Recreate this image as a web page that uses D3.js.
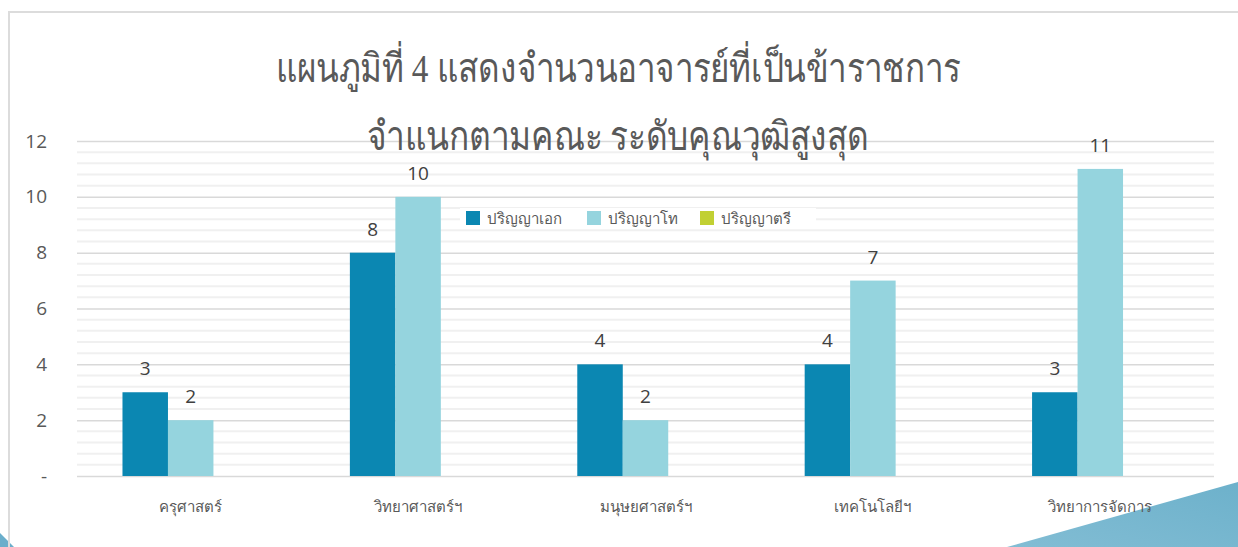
<!DOCTYPE html>
<html>
<head>
<meta charset="utf-8">
<script src="https://cdn.jsdelivr.net/npm/d3@7"></script>
<style>
  html, body { margin: 0; padding: 0; background: #fff; }
  svg { display: block; }
</style>
</head>
<body>
<svg id="chart" width="1238" height="547"></svg>
<script>
const categories = ["ครุศาสตร์", "วิทยาศาสตร์ฯ", "มนุษยศาสตร์ฯ", "เทคโนโลยีฯ", "วิทยาการจัดการ"];
const seriesNames = ["ปริญญาเอก", "ปริญญาโท", "ปริญญาตรี"];
const doctorValues = [3, 8, 4, 4, 3];
const masterValues = [2, 10, 2, 7, 11];
const bachelorValues = [null, null, null, null, null];
const yTicks = [0, 2, 4, 6, 8, 10, 12];
const titleLines = ["แผนภูมิที่ 4 แสดงจำนวนอาจารย์ที่เป็นข้าราชการ", "จำแนกตามคณะ ระดับคุณวุฒิสูงสุด"];

(function () {
const seriesValues = [doctorValues, masterValues, bachelorValues];
const colors = ["#0b87b2", "#95d4de", "#c1d033"];

const svg = d3.select("#chart");
const W = 1238, H = 547;
const pLeft = 77, pRight = 1214, pTop = 141, pBottom = 476;

const grad = svg.append("defs").append("linearGradient").attr("id", "bg").attr("x1", "0").attr("y1", "1").attr("x2", "1").attr("y2", "0");
grad.append("stop").attr("offset", "0").attr("stop-color", "#82bdd4");
grad.append("stop").attr("offset", "1").attr("stop-color", "#6db1cb");
svg.append("path").attr("d", `M1007,${H} L${W},482 L${W},${H} Z`).attr("fill", "url(#bg)");
svg.append("path").attr("d", `M0,533 L14,${H} L0,${H} Z`).attr("fill", "#6aaecb");

svg.append("line").attr("x1", 8).attr("x2", W).attr("y1", 12).attr("y2", 12).attr("stroke", "#dcdcdc").attr("stroke-width", 2);
svg.append("line").attr("x1", 9).attr("x2", 9).attr("y1", 11).attr("y2", H).attr("stroke", "#dcdcdc").attr("stroke-width", 2);

const y = d3.scaleLinear().domain([0, 12]).range([pBottom, pTop]);
const x = d3.scaleBand().domain(categories).range([pLeft, pRight]).paddingInner(0.4).paddingOuter(0.2);
const xs = d3.scaleBand().domain(seriesNames).range([0, x.bandwidth()]);

const minor = d3.range(0, 12.001, 0.4).filter(v => Math.abs(v / 2 - Math.round(v / 2)) > 1e-6);
svg.append("g").selectAll("line").data(minor).join("line")
  .attr("x1", pLeft).attr("x2", pRight)
  .attr("y1", d => y(d)).attr("y2", d => y(d))
  .attr("stroke", "#f0f0f0").attr("stroke-width", 2);

const yAxis = d3.axisLeft(y).tickValues(yTicks).tickSize(-(pRight - pLeft))
  .tickFormat(d => d === 0 ? "-" : d3.format("d")(d));
const gy = svg.append("g").attr("transform", `translate(${pLeft},0)`).call(yAxis);
gy.select(".domain").remove();
gy.selectAll(".tick line").attr("stroke", "#d9d9d9").attr("stroke-width", 1.5);
gy.selectAll(".tick text").attr("x", -30).attr("fill", "#595959")
  .style("font-family", "'Open Sans', 'Noto Sans', sans-serif").style("font-size", "19px");

const titleWidths = [685, 502];
const title = svg.append("g");
title.selectAll("text").data(titleLines).join("text")
  .attr("x", 618).attr("y", (d, i) => i === 0 ? 82 : 150)
  .attr("text-anchor", "middle").attr("fill", "#595959")
  .attr("textLength", (d, i) => titleWidths[i]).attr("lengthAdjust", "spacingAndGlyphs")
  .style("font-family", "'Liberation Serif', 'Noto Serif', serif").style("font-size", "40px")
  .style("font-weight", "300")
  .text(d => d);

const legend = svg.append("g").attr("transform", "translate(466,210)");
legend.append("rect").attr("x", -6).attr("y", -2).attr("width", 356).attr("height", 20).attr("fill", "#fff");
const lx = [0, 121, 234];
seriesNames.forEach((s, i) => {
  const g = legend.append("g").attr("transform", `translate(${lx[i]},0)`);
  g.append("rect").attr("x", 0).attr("y", 1).attr("width", 14).attr("height", 14).attr("fill", colors[i]);
  g.append("text").attr("x", 21).attr("y", 14).attr("fill", "#595959")
    .style("font-family", "'Noto Sans', 'Open Sans', sans-serif").style("font-size", "15px").text(s);
});

const groups = svg.append("g").selectAll("g").data(categories).join("g")
  .attr("transform", d => `translate(${x(d)},0)`);
groups.each(function (cat, ci) {
  const g = d3.select(this);
  seriesNames.forEach((s, si) => {
    const v = seriesValues[si][ci];
    if (v == null) return;
    g.append("rect").attr("x", xs(s)).attr("width", xs.bandwidth())
      .attr("y", y(v)).attr("height", y(0) - y(v)).attr("fill", colors[si]);
    g.append("text").attr("x", xs(s) + xs.bandwidth() / 2).attr("y", y(v) - 17)
      .attr("text-anchor", "middle").attr("fill", "#404040")
      .style("font-family", "'Open Sans', 'Noto Sans', sans-serif").style("font-size", "19px")
      .text(v);
  });
});

const xAxis = d3.axisBottom(x).tickSize(0).tickPadding(0);
const gx = svg.append("g").attr("transform", `translate(0,${pBottom})`).call(xAxis);
gx.select(".domain").remove();
gx.selectAll(".tick text").attr("y", 36).attr("dy", 0).attr("fill", "#595959")
  .style("font-family", "'Noto Sans', 'Open Sans', sans-serif").style("font-size", "15px");
})();
</script>
</body>
</html>
